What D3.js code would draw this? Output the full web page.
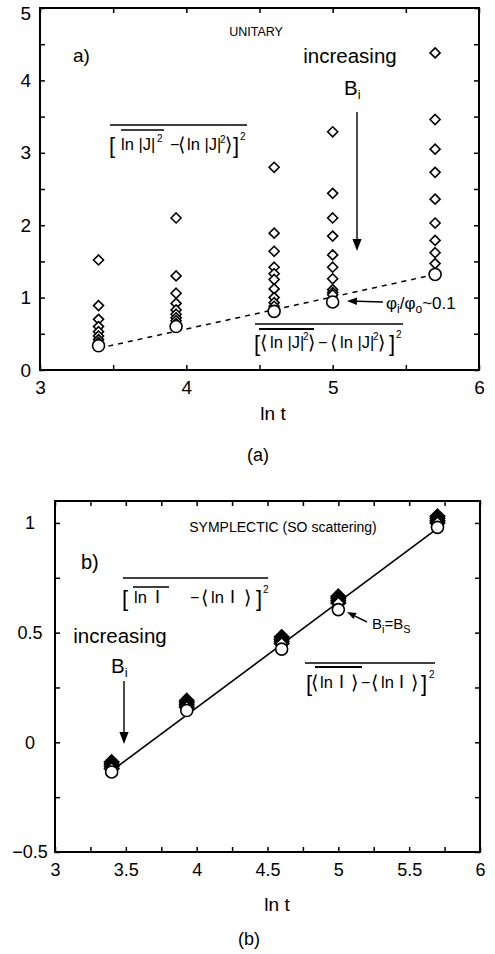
<!DOCTYPE html>
<html><head><meta charset="utf-8">
<script src="https://cdn.jsdelivr.net/npm/d3@7"></script>
<style>
html,body{margin:0;padding:0;background:#fff;}
svg{display:block;}
text{font-family:"Liberation Sans",Arial,Helvetica,sans-serif;fill:#000;}
</style></head>
<body>
<script>
// ---------- DATA ----------
const lnT = [3.4, 3.93, 4.6, 5.0, 5.7];

// Panel a) UNITARY
const unitaryDiamonds = [
  [1.52, 0.89, 0.70, 0.60, 0.53, 0.47, 0.42, 0.38],
  [2.10, 1.30, 1.06, 0.92, 0.83, 0.77, 0.72, 0.68, 0.64],
  [2.80, 1.89, 1.64, 1.42, 1.33, 1.25, 1.12, 1.00, 0.93, 0.88],
  [3.29, 2.44, 2.10, 1.85, 1.59, 1.42, 1.26, 1.11, 1.07, 1.04],
  [4.38, 3.46, 3.05, 2.73, 2.36, 2.03, 1.79, 1.62, 1.47]
];
const unitaryCircles = [0.335, 0.60, 0.81, 0.94, 1.32];
const unitaryFitX = [3.4, 5.7];
const unitaryFitY = [0.30, 1.32];
const unitaryXTicks = [3, 4, 5, 6];
const unitaryYTicks = [0, 1, 2, 3, 4, 5];

// Panel b) SYMPLECTIC
const sympDiamonds = [
  [-0.09, -0.10, -0.11, -0.12],
  [0.19, 0.18, 0.17, 0.16],
  [0.48, 0.47, 0.46, 0.45],
  [0.665, 0.655, 0.645, 0.635],
  [1.03, 1.02, 1.01, 1.00]
];
const sympCircles = [-0.135, 0.145, 0.425, 0.605, 0.98];
const sympFitX = [3.4, 5.7];
const sympFitY = [-0.13, 0.975];
const sympXTicks = [3, 3.5, 4, 4.5, 5, 5.5, 6];
const sympYTicks = [-0.5, 0, 0.5, 1];

// ---------- DRAW ----------
const W = 495, H = 954;
const svg = d3.select("body").append("svg").attr("width", W).attr("height", H);

const diamondPath = s => `M0,${-s}L${s},0L0,${s}L${-s},0Z`;

function frame(g, x, y, xMinor, yMinor, xLabels, yLabels, yLabelX, yAnchor, fs) {
  const [x0, x1] = x.range(), [y0, y1] = y.range();
  g.append("rect").attr("x", x0).attr("y", y1).attr("width", x1 - x0).attr("height", y0 - y1)
    .attr("fill", "none").attr("stroke", "#000").attr("stroke-width", 2);
  const tl = 5;
  const axB = d3.axisBottom(x).tickValues(xMinor).tickSize(-tl).tickFormat("");
  const axT = d3.axisTop(x).tickValues(xMinor).tickSize(-tl).tickFormat("");
  const axL = d3.axisLeft(y).tickValues(yMinor).tickSize(-tl).tickFormat("");
  const axR = d3.axisRight(y).tickValues(yMinor).tickSize(-tl).tickFormat("");
  [[axB, `translate(0,${y0})`], [axT, `translate(0,${y1})`], [axL, `translate(${x0},0)`], [axR, `translate(${x1},0)`]]
    .forEach(([ax, tr]) => {
      const a = g.append("g").attr("transform", tr).call(ax);
      a.select(".domain").remove();
      a.selectAll("line").attr("stroke-width", 1.5);
    });
  const lb = g.append("g").attr("transform", `translate(0,${y0})`)
    .call(d3.axisBottom(x).tickValues(xLabels).tickSize(0).tickPadding(11).tickFormat(d3.format("")));
  lb.select(".domain").remove();
  lb.selectAll("text").attr("font-size", fs).attr("font-family", "Liberation Sans, Arial, sans-serif");
  const ll = g.append("g")
    .call(d3.axisLeft(y).tickValues(yLabels).tickSize(0).tickPadding(0).tickFormat(d3.format("")));
  ll.select(".domain").remove();
  ll.selectAll("text").attr("x", yLabelX).attr("text-anchor", yAnchor)
    .attr("font-size", fs).attr("font-family", "Liberation Sans, Arial, sans-serif");
  return ll;
}

function rich(g, x, y, pieces, base) {
  let cx = x;
  const spans = [];
  pieces.forEach(p => {
    if (p.x !== undefined) cx = p.x;
    const fs = p.size || base;
    const t = g.append("text").attr("x", cx).attr("y", y + (p.dy || 0))
      .attr("font-size", fs).text(p.t);
    if (p.ff) t.attr("font-family", p.ff);
    const w = t.node().getComputedTextLength();
    spans.push([cx, cx + w]);
    cx += w + (p.gap || 0);
  });
  return spans;
}
function overline(g, xa, xb, y, sw) {
  g.append("line").attr("x1", xa).attr("x2", xb).attr("y1", y).attr("y2", y)
    .attr("stroke", "#000").attr("stroke-width", sw || 1.3);
}
function arrow(g, xa, ya, xb, yb, head) {
  const h = head || 9;
  const ang = Math.atan2(yb - ya, xb - xa);
  const bx = xb - h * Math.cos(ang), by = yb - h * Math.sin(ang);
  g.append("line").attr("x1", xa).attr("y1", ya).attr("x2", bx).attr("y2", by)
    .attr("stroke", "#000").attr("stroke-width", 1.4);
  const w = h * 0.38;
  const px = -Math.sin(ang) * w, py = Math.cos(ang) * w;
  g.append("path").attr("d", `M${xb},${yb}L${bx + px},${by + py}L${bx - px},${by - py}Z`).attr("fill", "#000");
}

const mono = "Liberation Mono, DejaVu Sans Mono, monospace";
const AB = 19; // angle bracket size

// ===== Panel a =====
{
  const g = svg.append("g");
  const x = d3.scaleLinear().domain([3, 6]).range([40, 479]);
  const y = d3.scaleLinear().domain([0, 5]).range([370, 8]);
  const ll = frame(g, x, y, d3.range(3, 6.01, 0.5), d3.range(0, 5.01, 0.5), unitaryXTicks, unitaryYTicks, 31, "end", 19);
  ll.selectAll("text").filter(d => d === 5).attr("dy", "0.62em");

  g.append("path").datum(d3.zip(unitaryFitX, unitaryFitY))
    .attr("d", d3.line().x(d => x(d[0])).y(d => y(d[1])))
    .attr("fill", "none").attr("stroke", "#000").attr("stroke-width", 1.5).attr("stroke-dasharray", "5,5");

  const pts = [];
  unitaryDiamonds.forEach((arr, i) => arr.forEach(v => pts.push([lnT[i], v])));
  g.selectAll(".dA").data(pts).join("path")
    .attr("transform", d => `translate(${x(d[0])},${y(d[1])})`)
    .attr("d", diamondPath(5)).attr("fill", "#fff").attr("stroke", "#000").attr("stroke-width", 1.6);
  g.selectAll(".cA").data(unitaryCircles).join("circle")
    .attr("cx", (d, i) => x(lnT[i])).attr("cy", d => y(d)).attr("r", 6)
    .attr("fill", "#fff").attr("stroke", "#000").attr("stroke-width", 1.6);

  g.append("text").attr("x", 256).attr("y", 36).attr("text-anchor", "middle").attr("font-size", 12.5).text("UNITARY");
  g.append("text").attr("x", 73).attr("y", 62).attr("font-size", 19).text("a)");
  g.append("text").attr("x", 350).attr("y", 63).attr("text-anchor", "middle").attr("font-size", 20.5).text("increasing");
  rich(g, 344, 95, [{t: "B"}, {t: "i", size: 13, dy: 4}], 20.5);
  arrow(g, 357, 112, 357, 251, 12);

  // formula 1
  {
    rich(g, 109, 150, [
      {t: "[", size: 22, dy: 3, x: 109}, {t: "ln |J|", x: 121, size: 16.5}, {t: "2", size: 10, dy: -8, x: 157},
      {t: "−", x: 170}, {t: "⟨", size: AB, dy: 1, x: 178}, {t: "ln |J|", x: 187, size: 16.5}, {t: "2", size: 10, dy: -7, x: 220},
      {t: "⟩", size: AB, dy: 1, x: 225}, {t: "]", size: 22, dy: 3, x: 233}, {t: "2", size: 10, dy: -10, x: 240}
    ], 16);
    overline(g, 110, 247, 125);
    overline(g, 121, 164, 130, 1.6);
  }
  // formula 2
  {
    rich(g, 255, 348, [
      {t: "[", size: 22, dy: 3, x: 254}, {t: "⟨", size: AB, dy: 1, x: 260}, {t: "ln |J|", x: 270, size: 16.5},
      {t: "2", size: 10, dy: -8, x: 303}, {t: "⟩", size: AB, dy: 1, x: 308},
      {t: "−", x: 318}, {t: "⟨", size: AB, dy: 1, x: 330}, {t: "ln |J|", x: 340, size: 16.5},
      {t: "2", size: 10, dy: -8, x: 373}, {t: "⟩", size: AB, dy: 1, x: 378},
      {t: "]", size: 22, dy: 3, x: 389}, {t: "2", size: 10, dy: -10, x: 396}
    ], 16);
    overline(g, 255, 403, 324);
    overline(g, 259, 314, 329, 2);
  }
  rich(g, 386, 309, [{t: "φ"}, {t: "i", size: 12, dy: 4}, {t: "/φ"}, {t: "o", size: 12, dy: 4}, {t: "~0.1"}], 17);
  arrow(g, 383, 302, 347, 301, 10);

  g.append("text").attr("x", 273).attr("y", 420).attr("text-anchor", "middle").attr("font-size", 19).text("ln t");
  g.append("text").attr("x", 258).attr("y", 461).attr("text-anchor", "middle").attr("font-size", 18)
    .attr("font-family", "Liberation Serif, DejaVu Serif, serif").text("(a)");
}

// ===== Panel b =====
{
  const g = svg.append("g");
  const x = d3.scaleLinear().domain([3, 6]).range([55, 480]);
  const y = d3.scaleLinear().domain([-0.5, 1.1]).range([852, 501]);
  frame(g, x, y, d3.range(3, 6.01, 0.25), d3.range(-0.5, 1.01, 0.25), sympXTicks, sympYTicks, 30, "middle", 18);

  g.append("path").datum(d3.zip(sympFitX, sympFitY))
    .attr("d", d3.line().x(d => x(d[0])).y(d => y(d[1])))
    .attr("fill", "none").attr("stroke", "#000").attr("stroke-width", 1.6);

  const pts = [];
  sympDiamonds.forEach((arr, i) => arr.forEach(v => pts.push([lnT[i], v])));
  g.selectAll(".dB").data(pts).join("path")
    .attr("transform", d => `translate(${x(d[0])},${y(d[1])})`)
    .attr("d", diamondPath(6.5)).attr("fill", "#fff").attr("stroke", "#000").attr("stroke-width", 2.6);
  g.selectAll(".cB").data(sympCircles).join("circle")
    .attr("cx", (d, i) => x(lnT[i])).attr("cy", d => y(d)).attr("r", 6)
    .attr("fill", "#fff").attr("stroke", "#000").attr("stroke-width", 1.6);

  g.append("text").attr("x", 283).attr("y", 532).attr("text-anchor", "middle").attr("font-size", 14).text("SYMPLECTIC (SO scattering)");
  g.append("text").attr("x", 81).attr("y", 569).attr("font-size", 20).text("b)");

  // formula 3
  {
    rich(g, 123, 603, [
      {t: "[", size: 22, dy: 3, x: 122}, {t: "ln", x: 134, size: 16.5}, {t: "I", ff: mono, size: 18, x: 155},
      {t: "−", x: 190}, {t: "⟨", size: AB, dy: 1, x: 201}, {t: "ln", x: 211, size: 16.5}, {t: "I", ff: mono, size: 18, x: 230},
      {t: "⟩", size: AB, dy: 1, x: 244}, {t: "]", size: 22, dy: 3, x: 256}, {t: "2", size: 10, dy: -10, x: 263}
    ], 16);
    overline(g, 123, 268, 578);
    overline(g, 133, 169, 587, 1.6);
  }
  // formula 4
  {
    rich(g, 307, 688, [
      {t: "[", size: 22, dy: 3, x: 306}, {t: "⟨", size: AB, dy: 1, x: 311}, {t: "ln", x: 320, size: 16.5},
      {t: "I", ff: mono, size: 18, x: 339},
      {t: "⟩", size: AB, dy: 1, x: 351}, {t: "−", x: 361}, {t: "⟨", size: AB, dy: 1, x: 371}, {t: "ln", x: 381, size: 16.5},
      {t: "I", ff: mono, size: 18, x: 399}, {t: "⟩", size: AB, dy: 1, x: 411}, {t: "]", size: 22, dy: 3, x: 421},
      {t: "2", size: 10, dy: -10, x: 429}
    ], 16);
    overline(g, 305, 435, 663);
    overline(g, 315, 362, 667, 2);
  }
  rich(g, 372, 629, [{t: "B"}, {t: "i", size: 11, dy: 4}, {t: "=B"}, {t: "S", size: 11, dy: 4}], 15);
  arrow(g, 367, 622, 347, 612, 9);

  g.append("text").attr("x", 120).attr("y", 643).attr("text-anchor", "middle").attr("font-size", 20.5).text("increasing");
  rich(g, 111, 673, [{t: "B"}, {t: "i", size: 13, dy: 4}], 20.5);
  arrow(g, 124, 681, 124, 744, 12);

  g.append("text").attr("x", 277).attr("y", 911).attr("text-anchor", "middle").attr("font-size", 19).text("ln t");
  g.append("text").attr("x", 249).attr("y", 945).attr("text-anchor", "middle").attr("font-size", 18)
    .attr("font-family", "Liberation Serif, DejaVu Serif, serif").text("(b)");
}
</script>
</body></html>
